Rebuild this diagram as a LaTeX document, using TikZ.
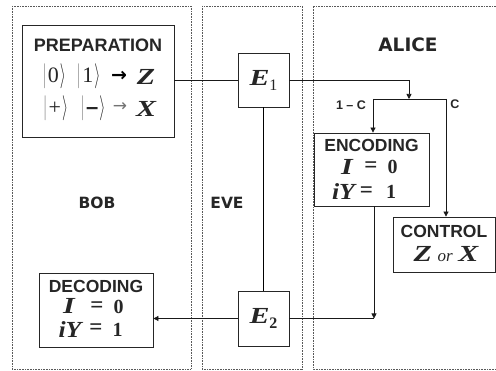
\documentclass[tikz,border=0pt]{standalone}
\usepackage{graphicx}
\usepackage{fontspec}
\setmainfont{Liberation Serif}
\setsansfont{Liberation Sans}
\newfontfamily\partyfont{DejaVu Sans}
\newfontfamily\symfont{DejaVu Sans}
\usetikzlibrary{arrows.meta}

% wide bold italic letters for operators and bases
\newcommand{\bi}[1]{\scalebox{1.3}[1]{\bfseries\itshape #1}}
\newcommand{\biy}[1]{\scalebox{1.12}[1]{\bfseries\itshape #1}}
% tall ket delimiters
\newcommand{\ketbar}{\raisebox{0.5pt}{\resizebox*{2.6pt}{25pt}{$|$}}}
\newcommand{\ketang}{\raisebox{0.5pt}{\resizebox*{6pt}{25pt}{$\rangle$}}}
\newcommand{\ketof}[1]{\ketbar\kern2pt#1\kern1pt\ketang}

\tikzset{
  panel/.style={draw=black!65, line width=0.6pt, dash pattern=on 0.8pt off 0.8pt},
  box/.style={draw=black!85, line width=0.8pt, fill=white, inner sep=0pt},
  wire/.style={draw=black!90, line width=0.75pt},
  arr/.style={wire, -{Triangle[length=5pt,width=5pt]}},
  txt/.style={inner sep=0pt, text=black!85},
  head/.style={txt, font=\sffamily\bfseries\fontsize{17.5}{17.5}\selectfont},
  party/.style={txt, font=\partyfont\bfseries\fontsize{15.5}{15.5}\selectfont},
  maths/.style={txt, font=\fontsize{23}{23}\selectfont},
  digit/.style={txt, font=\fontsize{20}{20}\selectfont\bfseries},
  ket/.style={txt, font=\fontsize{22}{22}\selectfont},
  prob/.style={txt, font=\sffamily\bfseries\fontsize{12.5}{12.5}\selectfont},
}

\begin{document}
\begin{tikzpicture}[x=1pt, y=-1pt]
  \useasboundingbox (0,0) rectangle (496,371);

  % dotted regions of the three parties
  \draw[panel] (12,6) rectangle (191,369);
  \draw[panel] (202,6) rectangle (302,369);
  \draw[panel] (496,6) -- (313,6) -- (313,369) -- (496,369);

  \node[party] (bob)   at (97,203)  {BOB};
  \node[party] (eve)   at (227,203) {EVE};
  \node[party, font=\partyfont\bfseries\fontsize{18.5}{18.5}\selectfont] (alice) at (408,45) {ALICE};

  % boxes
  \node[box, minimum width=152, minimum height=112] (prep) at (98,81) {};
  \node[box, minimum width=51, minimum height=54] (eone) at (263.5,80) {};
  \node[box, minimum width=51, minimum height=55] (etwo) at (263.5,318.5) {};
  \node[box, minimum width=115, minimum height=73] (enc) at (371.5,169.5) {};
  \node[box, minimum width=114, minimum height=74] (dec) at (96,310) {};
  \node[box, minimum width=102, minimum height=55] (ctrl) at (444,244.5) {};

  % preparation
  \node[head, font=\sffamily\bfseries\fontsize{18}{18}\selectfont] (preptitle) at (98,45) {PREPARATION};
  \node[ket] (k0) at (54.5,76) {\ketof{0}};
  \node[ket] (k1) at (89,76) {\ketof{1}};
  \node[txt, text=black, font=\symfont\bfseries\fontsize{19}{19}\selectfont] (az) at (119,76) {→};
  \node[maths] (zb) at (146,77) {\bi{Z}};
  \node[ket] (kp) at (56,108) {\ketof{+}};
  \node[ket] (km) at (93.5,108) {\ketof{\mbox{\sffamily\bfseries –}}};
  \node[txt, text=black!55, font=\symfont\fontsize{17}{17}\selectfont] (ax) at (120,107.5) {→};
  \node[maths] (xb) at (146,109) {\bi{X}};

  % Eve's two operations
  \node[maths] (e1) at (263.5,80) {\bi{E}\raisebox{-5pt}{\fontsize{16}{16}\selectfont 1}};
  \node[maths] (e2) at (263.5,318.5) {\bi{E}\raisebox{-5pt}{\fontsize{16}{16}\selectfont\bfseries 2}};

  % encoding
  \node[head] (enctitle) at (371.5,145) {ENCODING};
  \node[maths, text depth=0pt] (encI)  at (347,167) {\bi{I}};
  \node[maths] (encEa) at (371,167) {\textbf{=}};
  \node[digit] (enc0) at (392.5,167) {0};
  \node[maths] (encY)  at (343.5,192) {\biy{iY}};
  \node[maths] (encEb) at (366.5,192) {\textbf{=}};
  \node[digit] (enc1) at (391,192) {1};

  % decoding
  \node[head] (dectitle) at (96,286.5) {DECODING};
  \node[maths, text height=12pt, text depth=0pt] (decI)  at (69,307.5) {\bi{I}};
  \node[maths] (decEa) at (97,307) {\textbf{=}};
  \node[digit] (dec0) at (118.5,307) {0};
  \node[maths] (decY)  at (70,329.5) {\biy{iY}};
  \node[maths] (decEb) at (96,329.5) {\textbf{=}};
  \node[digit] (dec1) at (117.5,329.5) {1};

  % control
  \node[head] (ctrltitle) at (444,231.5) {CONTROL};
  \node[maths] (ctrlbasis) at (446,254) {\bi{Z} {\itshape\fontsize{17}{17}\selectfont or} \bi{X}};

  % branch probabilities
  \node[prob] (pone) at (351,105) {1 – C};
  \node[prob] (pc)   at (455,104) {C};

  % connectors
  \coordinate (split) at (409,99);
  \coordinate (bl) at (373,99);
  \coordinate (br) at (446,99);
  \coordinate (join) at (374,318.5);

  \draw[wire] (eone.west) -- (eone.west -| prep.east);
  \draw[arr] (eone.east) -| (split);
  \draw[wire] (bl) -- (br);
  \draw[arr] (bl) -- (bl |- enc.north);
  \draw[arr] (br) -- (br |- ctrl.north);
  \draw[wire, draw=black, line width=1.2pt] (eone.south) -- (etwo.north);
  \draw[wire] (etwo.east) -- (join);
  \draw[arr] (enc.south -| join) -- (join);
  \draw[arr] (etwo.west) -- (etwo.west -| dec.east);
\end{tikzpicture}
\end{document}
